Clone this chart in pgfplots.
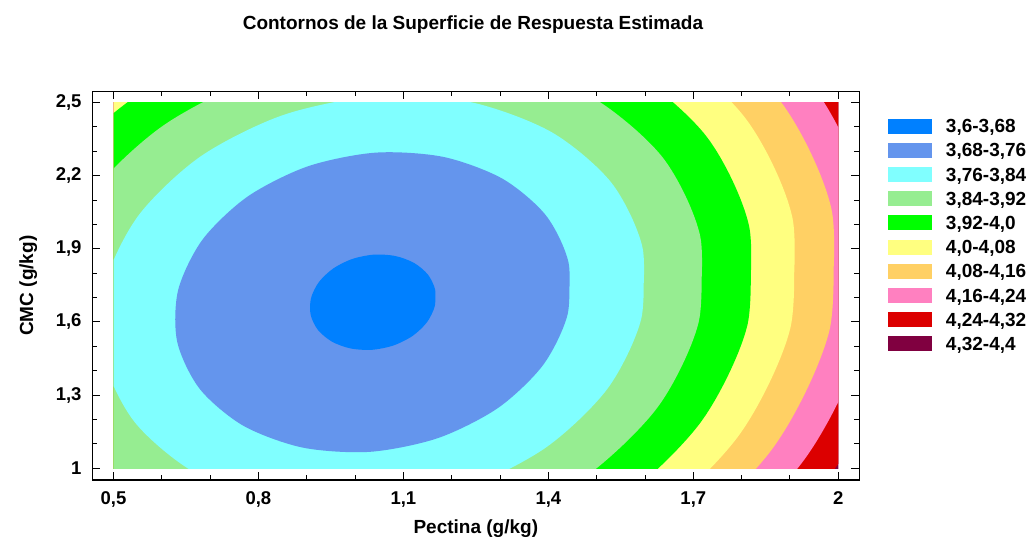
\documentclass[border=0pt]{standalone}
\usepackage{pgfplots}
\pgfplotsset{compat=1.18}
\usepackage{fontspec}
\setmainfont{Liberation Sans}
\definecolor{cA}{RGB}{0,128,255}
\definecolor{cB}{RGB}{100,149,237}
\definecolor{cC}{RGB}{128,255,255}
\definecolor{cD}{RGB}{150,237,145}
\definecolor{cE}{RGB}{0,255,0}
\definecolor{cF}{RGB}{255,255,128}
\definecolor{cG}{RGB}{255,208,100}
\definecolor{cH}{RGB}{255,128,192}
\definecolor{cI}{RGB}{220,0,0}
\definecolor{cJ}{RGB}{128,0,64}
\newcommand{\lbox}[1]{\addlegendimage{legend image code/.code={\fill[#1, draw=none] (0pt,-7.5pt) rectangle (43.4pt,7.5pt); \path[draw=none, fill=none] (0pt,0pt) -- (57.7pt,0pt);}}}
\begin{document}
\begin{tikzpicture}[x=1pt,y=1pt]
\useasboundingbox (0,0) rectangle (1034,538);
% ---- filled contour regions (level curves of the estimated surface) ----
\begin{axis}[at={(113.5pt,69.7pt)}, anchor=south west, scale only axis,
  width=724.8pt, height=365.8pt, xmin=0.5, xmax=2, ymin=1, ymax=2.5,
  hide axis, clip=true]
% 4.32-4.4 background
\addplot[draw=none, fill=cJ] coordinates {(0.4,0.9) (2.1,0.9) (2.1,2.6) (0.4,2.6)} -- cycle;
% < 4.32
\addplot[draw=none, fill=cI, smooth] coordinates {
(2.1249,1.5447) (2.1303,2.1200) (2.0038,2.6423) (1.7607,3.0487) (1.4303,3.2901) (1.0524,3.3375)
(0.6726,3.1850) (0.3368,2.8511) (0.0854,2.3761) (-0.0513,1.8173) (-0.0567,1.2420) (0.0698,0.7197)
(0.3129,0.3133) (0.6433,0.0719) (1.0212,0.0245) (1.4010,0.1770) (1.7368,0.5109) (1.9882,0.9859)
(2.1249,1.5447) (2.1303,2.1200)} -- cycle;
% < 4.24
\addplot[draw=none, fill=cH, smooth] coordinates {
(2.0556,1.5534) (2.0606,2.0920) (1.9422,2.5811) (1.7146,2.9616) (1.4052,3.1877) (1.0514,3.2320)
(0.6958,3.0893) (0.3814,2.7766) (0.1460,2.3319) (0.0180,1.8086) (0.0130,1.2700) (0.1314,0.7809)
(0.3590,0.4004) (0.6684,0.1743) (1.0222,0.1300) (1.3778,0.2727) (1.6922,0.5854) (1.9276,1.0301)
(2.0556,1.5534) (2.0606,2.0920)} -- cycle;
% < 4.16
\addplot[draw=none, fill=cG, smooth] coordinates {
(1.9813,1.5627) (1.9859,2.0621) (1.8762,2.5155) (1.6651,2.8682) (1.3783,3.0778) (1.0503,3.1188)
(0.7207,2.9865) (0.4292,2.6967) (0.2110,2.2844) (0.0923,1.7993) (0.0877,1.2999) (0.1974,0.8465)
(0.4085,0.4938) (0.6953,0.2842) (1.0233,0.2432) (1.3529,0.3755) (1.6444,0.6653) (1.8626,1.0776)
(1.9813,1.5627) (1.9859,2.0621)} -- cycle;
% < 4.08
\addplot[draw=none, fill=cF, smooth] coordinates {
(1.9005,1.5728) (1.9048,2.0295) (1.8044,2.4441) (1.6115,2.7668) (1.3492,2.9584) (1.0492,2.9960)
(0.7477,2.8749) (0.4811,2.6099) (0.2815,2.2328) (0.1731,1.7892) (0.1688,1.3325) (0.2692,0.9179)
(0.4621,0.5952) (0.7244,0.4036) (1.0244,0.3660) (1.3259,0.4871) (1.5925,0.7521) (1.7921,1.1292)
(1.9005,1.5728) (1.9048,2.0295)} -- cycle;
% < 4.00
\addplot[draw=none, fill=cE, smooth] coordinates {
(1.8115,1.5840) (1.8153,1.9936) (1.7253,2.3655) (1.5522,2.6548) (1.3169,2.8267) (1.0479,2.8604)
(0.7775,2.7518) (0.5384,2.5141) (0.3594,2.1759) (0.2621,1.7780) (0.2583,1.3684) (0.3483,0.9965)
(0.5214,0.7072) (0.7567,0.5353) (1.0257,0.5016) (1.2961,0.6102) (1.5352,0.8479) (1.7142,1.1861)
(1.8115,1.5840) (1.8153,1.9936)} -- cycle;
% < 3.92
\addplot[draw=none, fill=cD, smooth] coordinates {
(1.7107,1.5966) (1.7141,1.9529) (1.6358,2.2765) (1.4852,2.5282) (1.2805,2.6777) (1.0465,2.7070)
(0.8112,2.6126) (0.6032,2.4058) (0.4475,2.1116) (0.3629,1.7654) (0.3595,1.4091) (0.4378,1.0855)
(0.5884,0.8338) (0.7931,0.6843) (1.0271,0.6550) (1.2624,0.7494) (1.4704,0.9562) (1.6261,1.2504)
(1.7107,1.5966) (1.7141,1.9529)} -- cycle;
% < 3.84
\addplot[draw=none, fill=cC, smooth] coordinates {
(1.5920,1.6115) (1.5948,1.9050) (1.5302,2.1716) (1.4062,2.3789) (1.2376,2.5021) (1.0448,2.5263)
(0.8510,2.4485) (0.6796,2.2781) (0.5513,2.0357) (0.4816,1.7505) (0.4788,1.4570) (0.5434,1.1904)
(0.6674,0.9831) (0.8360,0.8599) (1.0288,0.8357) (1.2226,0.9135) (1.3940,1.0839) (1.5223,1.3263)
(1.5920,1.6115) (1.5948,1.9050)} -- cycle;
% < 3.76
\addplot[draw=none, fill=cB, smooth] coordinates {
(1.4397,1.6305) (1.4417,1.8436) (1.3949,2.0370) (1.3049,2.1875) (1.1825,2.2769) (1.0426,2.2944)
(0.9019,2.2380) (0.7776,2.1143) (0.6845,1.9384) (0.6339,1.7315) (0.6319,1.5184) (0.6787,1.3250)
(0.7687,1.1745) (0.8911,1.0851) (1.0310,1.0676) (1.1717,1.1240) (1.2960,1.2477) (1.3891,1.4236)
(1.4397,1.6305) (1.4417,1.8436)} -- cycle;
% < 3.68
\addplot[draw=none, fill=cA, smooth] coordinates {
(1.1649,1.6650) (1.1656,1.7327) (1.1507,1.7942) (1.1220,1.8421) (1.0831,1.8705) (1.0386,1.8761)
(0.9939,1.8581) (0.9544,1.8188) (0.9248,1.7629) (0.9087,1.6971) (0.9080,1.6293) (0.9229,1.5678)
(0.9516,1.5199) (0.9905,1.4915) (1.0350,1.4859) (1.0797,1.5039) (1.1192,1.5432) (1.1488,1.5991)
(1.1649,1.6650) (1.1656,1.7327)} -- cycle;
\end{axis}
% ---- frame, ticks, labels, title, legend ----
\begin{axis}[at={(92.3pt,58pt)}, anchor=south west, scale only axis,
  width=767pt, height=388.7pt,
  xmin=0.4562, xmax=2.0435, ymin=0.952, ymax=2.5459,
  xtick={0.5,0.8,1.1,1.4,1.7,2.0},
  xticklabels={{0,5},{0,8},{1,1},{1,4},{1,7},{2}},
  ytick={1,1.3,1.6,1.9,2.2,2.5},
  yticklabels={{1},{1,3},{1,6},{1,9},{2,2},{2,5}},
  minor x tick num=2, minor y tick num=2,
  tick align=inside,
  major tick length=8pt, minor tick length=5pt,
  axis line style={line width=1.4pt},
  every tick/.style={black, line width=1pt},
  tick label style={font=\fontsize{18.5}{18.5}\selectfont\bfseries},
  xticklabel style={anchor=base, yshift=-25pt},
  yticklabel style={anchor=east, inner sep=0pt, xshift=-10.6pt},
  title={Contornos de la Superficie de Respuesta Estimada},
  title style={at={(axis description cs:0.4963,1.1423)}, anchor=base, inner sep=0pt,
    font=\fontsize{19}{19}\selectfont\bfseries},
  xlabel={Pectina (g/kg)},
  xlabel style={at={(axis description cs:0.5,-0.1376)}, anchor=base, inner sep=0pt,
    font=\fontsize{19}{19}\selectfont\bfseries},
  ylabel={CMC (g/kg)},
  ylabel style={at={(axis description cs:-0.0773,0.5)}, anchor=base, inner sep=0pt,
    font=\fontsize{19}{19}\selectfont\bfseries},
  legend cell align=left,
  legend style={at={(axis description cs:1.0378,0.93)}, anchor=north west,
    draw=none, fill=none, inner xsep=0pt, inner ysep=0pt, outer sep=0pt,
    row sep=9.2pt, column sep=0pt,
    nodes={inner sep=0pt, text depth=0pt},
    font=\fontsize{19}{19}\selectfont\bfseries},
]
\lbox{cA}\addlegendentry{3,6-3,68}
\lbox{cB}\addlegendentry{3,68-3,76}
\lbox{cC}\addlegendentry{3,76-3,84}
\lbox{cD}\addlegendentry{3,84-3,92}
\lbox{cE}\addlegendentry{3,92-4,0}
\lbox{cF}\addlegendentry{4,0-4,08}
\lbox{cG}\addlegendentry{4,08-4,16}
\lbox{cH}\addlegendentry{4,16-4,24}
\lbox{cI}\addlegendentry{4,24-4,32}
\lbox{cJ}\addlegendentry{4,32-4,4}
\end{axis}
\end{tikzpicture}
\end{document}
